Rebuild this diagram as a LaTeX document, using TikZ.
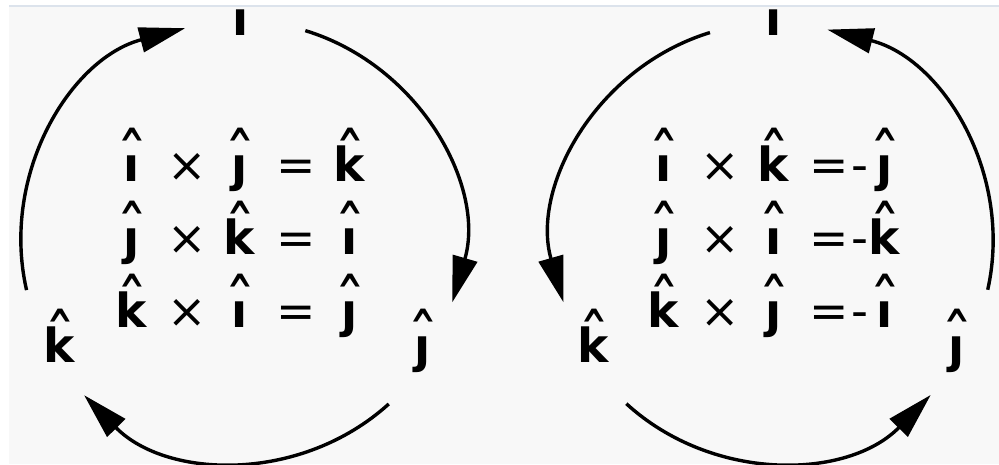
\documentclass[tikz,border=0pt]{standalone}
\usepackage{fontspec}
\setmainfont{DejaVu Sans}
\usetikzlibrary{arrows.meta}
\definecolor{bgc}{HTML}{F8F8F8}
\definecolor{topline}{HTML}{DCE3EC}
\newcommand\hv[1]{\ooalign{\textbf{#1}\cr\hidewidth\raisebox{-3pt}{\mdseries\scalebox{1.35}[1.5]{ˆ}}\hidewidth\cr}}
\tikzset{
  sym/.style={anchor=base, inner sep=0pt, font=\fontsize{47}{56}\selectfont},
  arc/.style={line width=3.4pt, -{Triangle[length=46pt,width=25pt]}},
}
\begin{document}
\begin{tikzpicture}[x=1pt,y=1pt]
\useasboundingbox (0,0) rectangle (999,464);
\fill[white] (0,0) rectangle (999,464);
\fill[bgc] (9,0) rectangle (999,457);
\fill[topline] (9,457) rectangle (999,458.5);
\begin{scope}
\clip (9,0) rectangle (999,457);
\coordinate (cL) at (241,223);
\coordinate (cR) at (774,222);
% left circle labels
\node[sym] (Li) at (241,428) {\hv{ı}};
\node[sym] (Lk) at (60,102) {\hv{k}};
\node[sym] (Lj) at (423,102) {\hv{ȷ}};
% right circle labels
\node[sym] (Ri) at (774,428) {\hv{ı}};
\node[sym] (Rk) at (594,102) {\hv{k}};
\node[sym] (Rj) at (957,102) {\hv{ȷ}};
% left equations
\node[sym] (a11) at (132,282) {\hv{ı}};
\node[sym] (a12) at (187,282) {×};
\node[sym] (a13) at (240,282) {\hv{ȷ}};
\node[sym] (a14) at (296,282) {=};
\node[sym] (a15) at (350,282) {\hv{k}};
\node[sym] (a21) at (132,209) {\hv{ȷ}};
\node[sym] (a22) at (187,209) {×};
\node[sym] (a23) at (240,209) {\hv{k}};
\node[sym] (a24) at (296,209) {=};
\node[sym] (a25) at (350,209) {\hv{ı}};
\node[sym] (a31) at (132,136) {\hv{k}};
\node[sym] (a32) at (187,136) {×};
\node[sym] (a33) at (240,136) {\hv{ı}};
\node[sym] (a34) at (296,136) {=};
\node[sym] (a35) at (350,136) {\hv{ȷ}};
% right equations
\node[sym] (b11) at (664,282) {\hv{ı}};
\node[sym] (b12) at (720,282) {×};
\node[sym] (b13) at (774,282) {\hv{k}};
\node[sym] (b14) at (829,282) {=};
\node[sym] (b15) at (860,282) {-};
\node[sym] (b16) at (885,282) {\hv{ȷ}};
\node[sym] (b21) at (664,209) {\hv{ȷ}};
\node[sym] (b22) at (720,209) {×};
\node[sym] (b23) at (774,209) {\hv{ı}};
\node[sym] (b24) at (829,209) {=};
\node[sym] (b25) at (860,209) {-};
\node[sym] (b26) at (885,209) {\hv{k}};
\node[sym] (b31) at (664,136) {\hv{k}};
\node[sym] (b32) at (720,136) {×};
\node[sym] (b33) at (774,136) {\hv{ȷ}};
\node[sym] (b34) at (829,136) {=};
\node[sym] (b35) at (860,136) {-};
\node[sym] (b36) at (885,136) {\hv{ı}};
% left arcs (clockwise)
\draw[arc] ([shift={(73:220)}]cL) arc[start angle=73, end angle=-16.2, radius=220];
\draw[arc] ([shift={(-47.8:220)}]cL) arc[start angle=-47.8, end angle=-135.5, radius=220];
\draw[arc] ([shift={(192.9:220)}]cL) arc[start angle=192.9, end angle=104.7, radius=220];
% right arcs (counter-clockwise)
\draw[arc] ([shift={(107:219)}]cR) arc[start angle=107, end angle=196, radius=219];
\draw[arc] ([shift={(227.6:219)}]cR) arc[start angle=227.6, end angle=315.7, radius=219];
\draw[arc] ([shift={(-12.6:219)}]cR) arc[start angle=-12.6, end angle=75.9, radius=219];
\end{scope}
\end{tikzpicture}
\end{document}
